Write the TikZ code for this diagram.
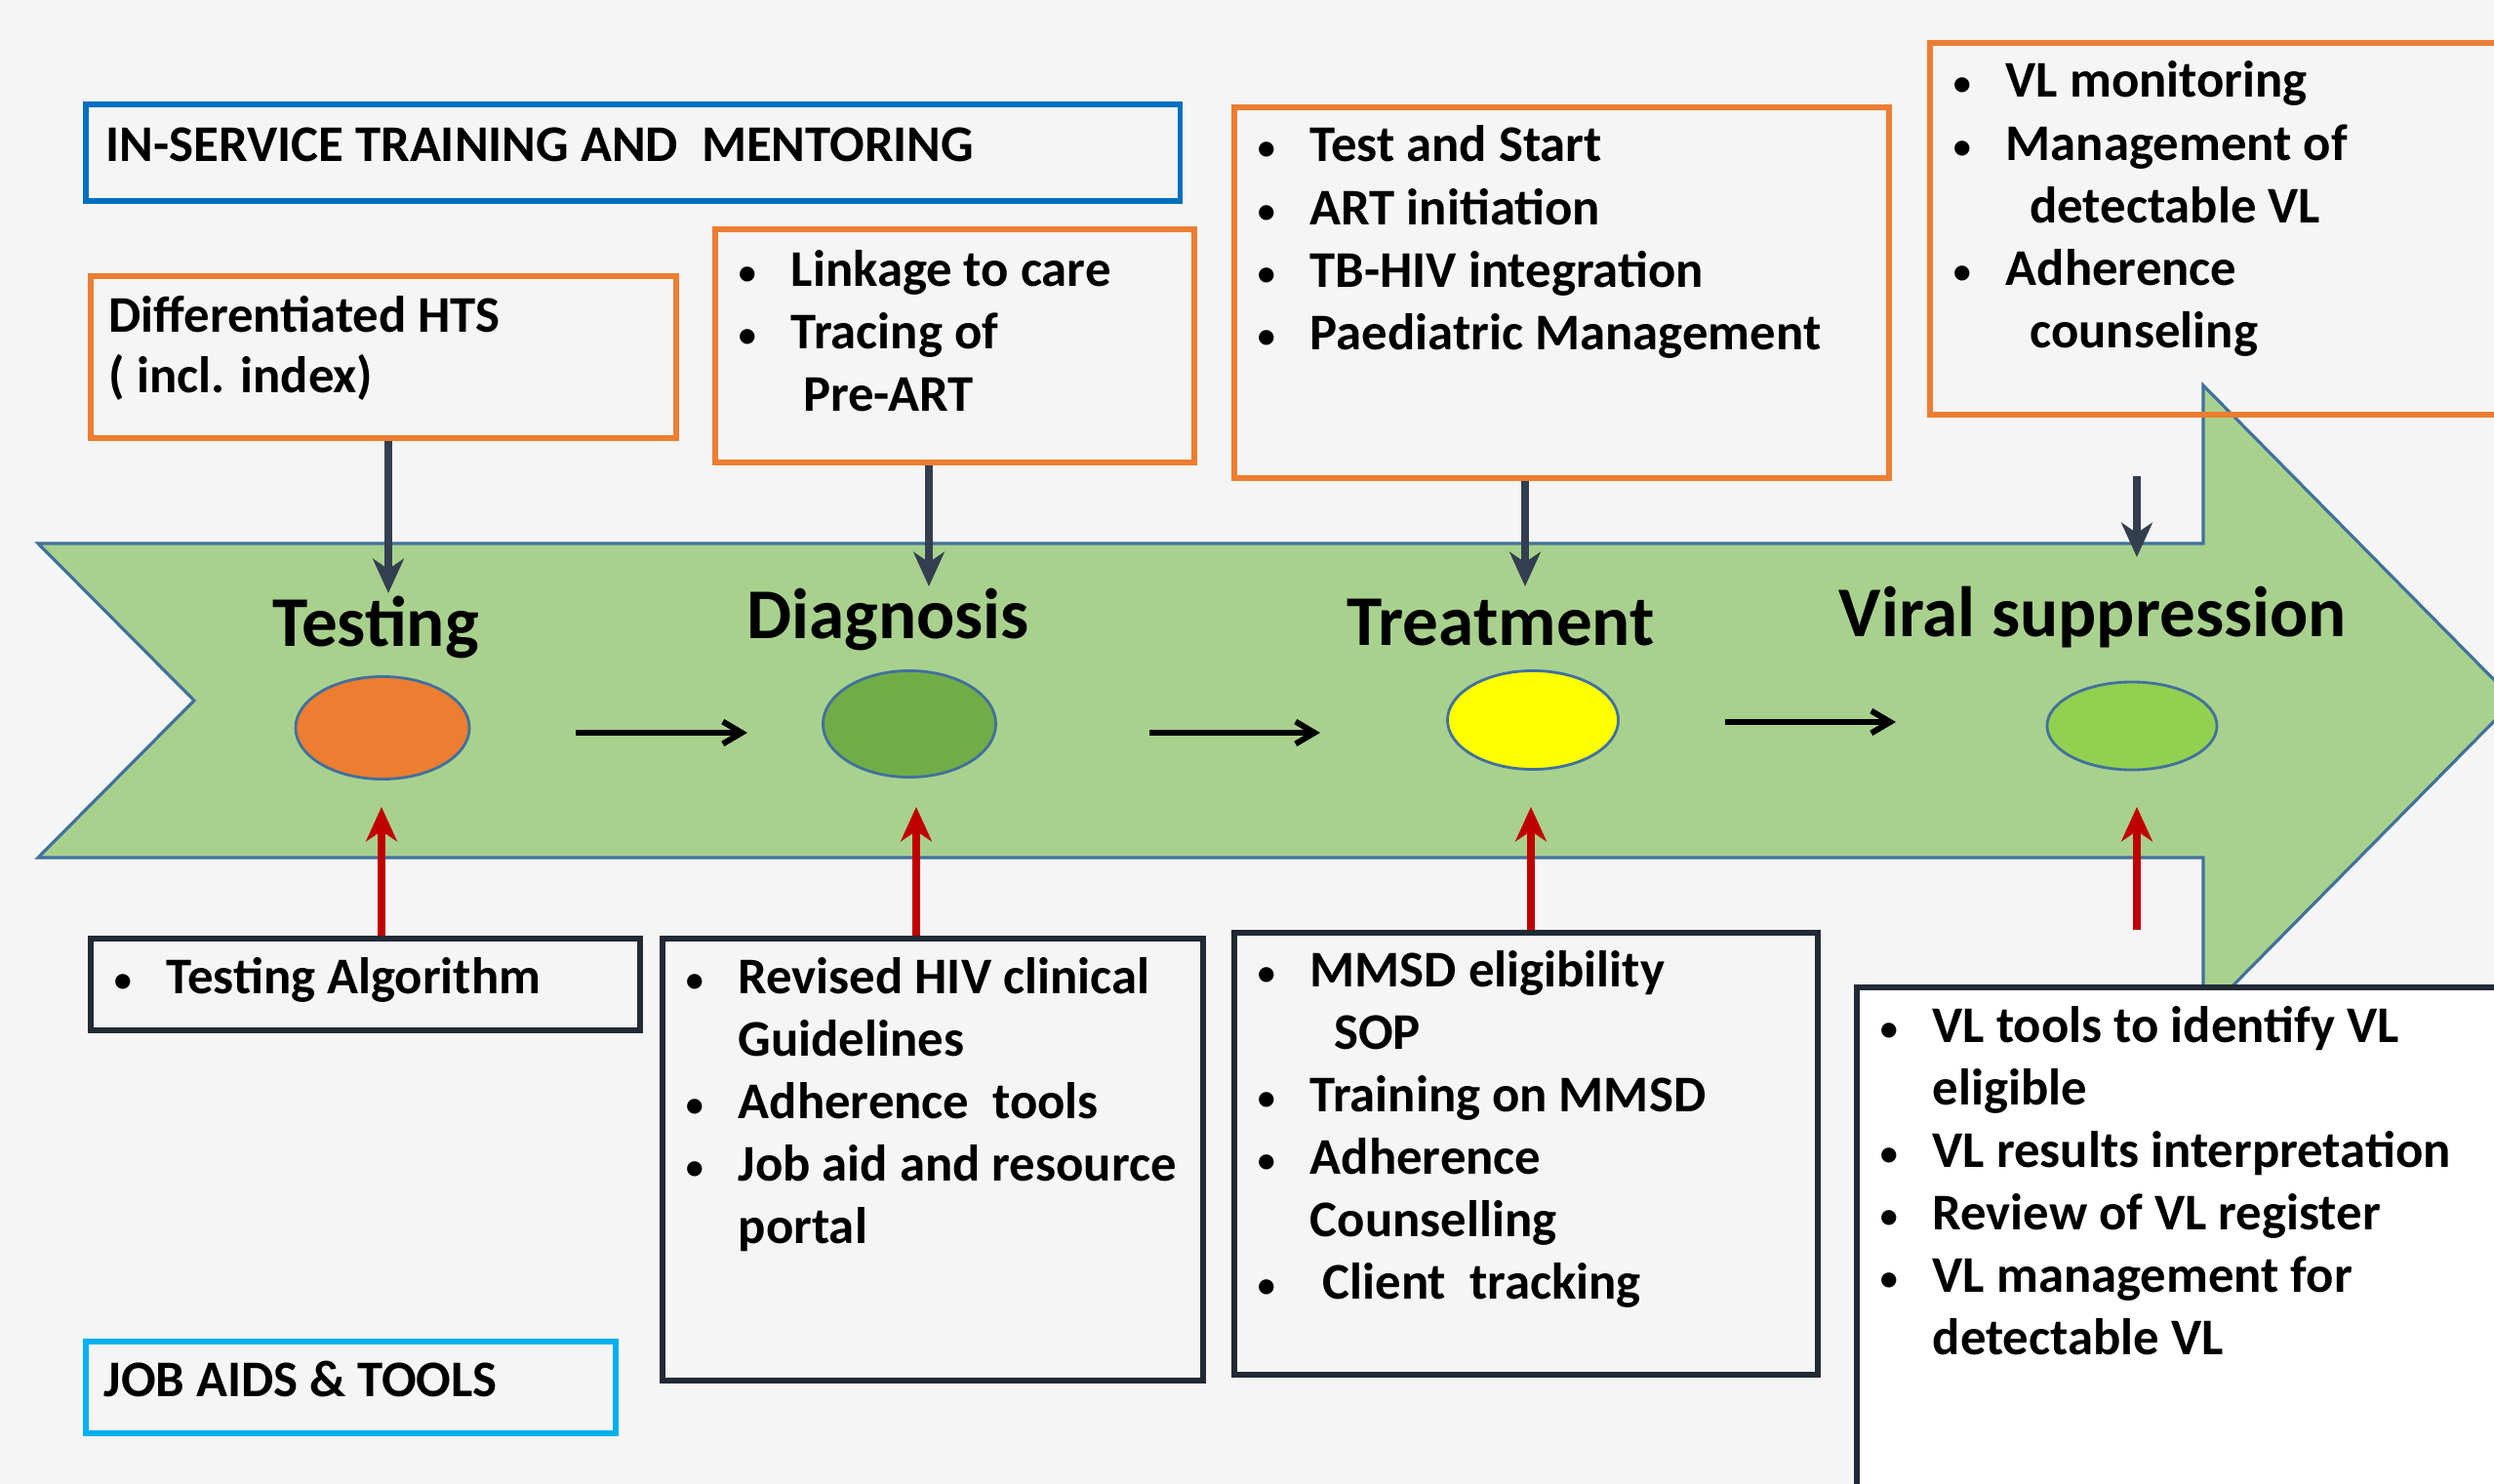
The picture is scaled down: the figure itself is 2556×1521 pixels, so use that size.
\documentclass[tikz,border=0pt]{standalone}
\usepackage{fontspec}
\setmainfont{Carlito}
\usetikzlibrary{arrows.meta,shapes.geometric}

\definecolor{pagebg}{HTML}{F5F5F5}
\definecolor{bandgreen}{HTML}{A9D18E}
\definecolor{edgeblue}{HTML}{41719C}
\definecolor{boxorange}{HTML}{ED7D31}
\definecolor{boxblue}{HTML}{0070C0}
\definecolor{boxcyan}{HTML}{00B0F0}
\definecolor{boxdark}{HTML}{222A35}
\definecolor{linkdark}{HTML}{333F50}
\definecolor{linkred}{HTML}{C00000}
\definecolor{dotorange}{HTML}{ED7D31}
\definecolor{dotgreen}{HTML}{70AD47}
\definecolor{dotyellow}{HTML}{FFFF00}
\definecolor{dotlime}{HTML}{92D050}

% bullet column and indents for the list boxes
\newcommand{\bul}{\makebox[16.5pt][l]{\hspace*{0.8pt}\mdseries\scalebox{0.82}{\textbullet}}}
\newcommand{\ind}[1][16.5pt]{\hspace*{#1}}
\newcommand{\boxlines}[1]{\parbox[t]{12cm}{\fontsize{15}{18.2}\selectfont\bfseries\raggedright #1}}

\tikzset{
  panel/.style={draw, line width=1.6pt, anchor=north west, inner sep=0pt},
  orangepanel/.style={panel, draw=boxorange},
  darkpanel/.style={panel, draw=boxdark},
  listtext/.style={anchor=base west, inner sep=0pt, font=\bfseries},
  stagetitle/.style={anchor=base, inner sep=0pt, font=\fontsize{20.8}{24}\selectfont\bfseries},
  stagedot/.style={ellipse, draw=edgeblue, line width=0.8pt, inner sep=0pt},
  feedarrow/.style={draw=linkdark, line width=2pt, -{Stealth[length=10pt,width=9pt,inset=3pt]}},
  supportarrow/.style={draw=linkred, line width=2pt, -{Stealth[length=10pt,width=9pt,inset=3pt]}},
  flowarrow/.style={draw=black, line width=1.7pt, -{Straight Barb[length=5.5pt,width=6.5pt]}},
}

\begin{document}
\begin{tikzpicture}[x=0.01cm, y=-0.01cm]
  \useasboundingbox (0,0) rectangle (2556,1521);
  \fill[pagebg] (0,0) rectangle (2556,1521);
  \clip (0,0) rectangle (2556,1521);

  % the cascade band: notched tail, block arrow head
  \draw[fill=bandgreen, draw=edgeblue, line width=0.9pt]
    (39,557) -- (2258,557) -- (2258,395) -- (2577,718) -- (2258,1041)
    -- (2258,879) -- (39,879) -- (199,718) -- cycle;

  % stage titles
  \node[stagetitle] (ttest)  at (385,662)  {Testing};
  \node[stagetitle] (tdiag)  at (910,654)  {Diagnosis};
  \node[stagetitle] (ttreat) at (1538,661) {Treatment};
  \node[stagetitle] (tvir)   at (2145,652) {Viral suppression};

  % stage markers
  \node[stagedot, fill=dotorange, minimum width=1.78cm, minimum height=1.05cm] (tst) at (392,746) {};
  \node[stagedot, fill=dotgreen,  minimum width=1.77cm, minimum height=1.09cm] (dia) at (932,742) {};
  \node[stagedot, fill=dotyellow, minimum width=1.75cm, minimum height=1.01cm] (trt) at (1571,738) {};
  \node[stagedot, fill=dotlime,   minimum width=1.74cm, minimum height=0.90cm] (vir) at (2185,744) {};

  % flow between stages
  \coordinate (f1a) at (590,751);  \coordinate (f1b) at (766,751);
  \coordinate (f2a) at (1178,751); \coordinate (f2b) at (1353,751);
  \coordinate (f3a) at (1768,740); \coordinate (f3b) at (1943,740);
  \draw[flowarrow] (f1a) -- (f1b);
  \draw[flowarrow] (f2a) -- (f2b);
  \draw[flowarrow] (f3a) -- (f3b);

  % upper panels: in-service training and mentoring
  \node[panel, draw=boxblue, minimum width=11.21cm, minimum height=0.99cm] (train) at (85,104) {};
  \node[orangepanel, minimum width=6.00cm, minimum height=1.66cm] (hts)   at (90,280) {};
  \node[orangepanel, minimum width=4.91cm, minimum height=2.39cm] (link)  at (730,232) {};
  \node[orangepanel, minimum width=6.71cm, minimum height=3.80cm] (treat) at (1262,107) {};
  \node[orangepanel, minimum width=6.60cm, minimum height=3.81cm] (vltop) at (1975,41) {};

  % lower panels: job aids and tools
  \node[darkpanel, minimum width=5.63cm, minimum height=0.94cm] (alg)  at (90,959) {};
  \node[darkpanel, minimum width=5.54cm, minimum height=4.53cm] (rev)  at (676,959) {};
  \node[panel, draw=boxcyan, minimum width=5.43cm, minimum height=0.94cm] (jobs) at (85,1372) {};
  \node[darkpanel, minimum width=5.98cm, minimum height=4.53cm] (mmsd) at (1262,953) {};
  \node[darkpanel, fill=white, minimum width=7.20cm, minimum height=5.51cm] (vltools) at (1900,1009) {};

  % panel texts
  \node[listtext] (traintxt) at (108,165) {\boxlines{IN-SERVICE TRAINING AND~~MENTORING}};
  \node[listtext] (jobstxt)  at (106,1431) {\boxlines{JOB AIDS \& TOOLS}};
  \node[listtext] (htstxt)   at (111,340) {\boxlines{\fontsize{15}{17.7}\selectfont Differentiated HTS\\( incl. index)}};
  \node[listtext] (linktxt)  at (752,293) {\boxlines{\bul Linkage to care\\\bul Tracing of\\\ind[20pt]Pre-ART}};
  \node[listtext] (treattxt) at (1284,166) {\boxlines{\bul Test and Start\\\bul ART initiation\\\bul TB-HIV integration\\\bul Paediatric Management}};
  \node[listtext] (vltoptxt) at (1997,100) {\boxlines{\bul VL monitoring\\\bul Management of\\\ind[23.5pt]detectable VL\\\bul Adherence\\\ind[23.5pt]counseling}};
  \node[listtext] (algtxt)   at (112,1018) {\boxlines{\bul Testing Algorithm}};
  \node[listtext] (revtxt)   at (698,1018) {\boxlines{\bul Revised HIV clinical\\\ind Guidelines\\\bul Adherence~~tools\\\bul Job aid and resource\\\ind portal}};
  \node[listtext] (mmsdtxt)  at (1284,1011) {\boxlines{\bul MMSD eligibility\\\ind[23.5pt]SOP\\\bul Training on MMSD\\\bul Adherence\\\ind Counselling\\\bul\hspace*{3.7pt}Client~~tracking}};
  \node[listtext] (vltooltxt) at (1922,1068) {\boxlines{\bul VL tools to identify VL\\\ind eligible\\\bul VL results interpretation\\\bul Review of VL register\\\bul VL management for\\\ind detectable VL}};

  % training feeds into each stage
  \coordinate (intst) at (398,608);
  \coordinate (india) at (952,601);
  \coordinate (intrt) at (1563,601);
  \coordinate (invir) at (2190,571);
  \coordinate (vlfeed) at (2190,488);
  \draw[feedarrow] (hts.south -| intst) -- (intst);
  \draw[feedarrow] (link.south -| india) -- (india);
  \draw[feedarrow] (treat.south -| intrt) -- (intrt);
  \draw[feedarrow] (vlfeed) -- (invir);

  % tools support each stage
  \coordinate (uptst) at (391,827);
  \coordinate (updia) at (939,827);
  \coordinate (uptrt) at (1569,827);
  \coordinate (upvir) at (2190,827);
  \coordinate (vlbase) at (2190,953);
  \draw[supportarrow] (alg.north -| uptst) -- (uptst);
  \draw[supportarrow] (rev.north -| updia) -- (updia);
  \draw[supportarrow] (mmsd.north -| uptrt) -- (uptrt);
  \draw[supportarrow] (vlbase) -- (upvir);
\end{tikzpicture}
\end{document}
